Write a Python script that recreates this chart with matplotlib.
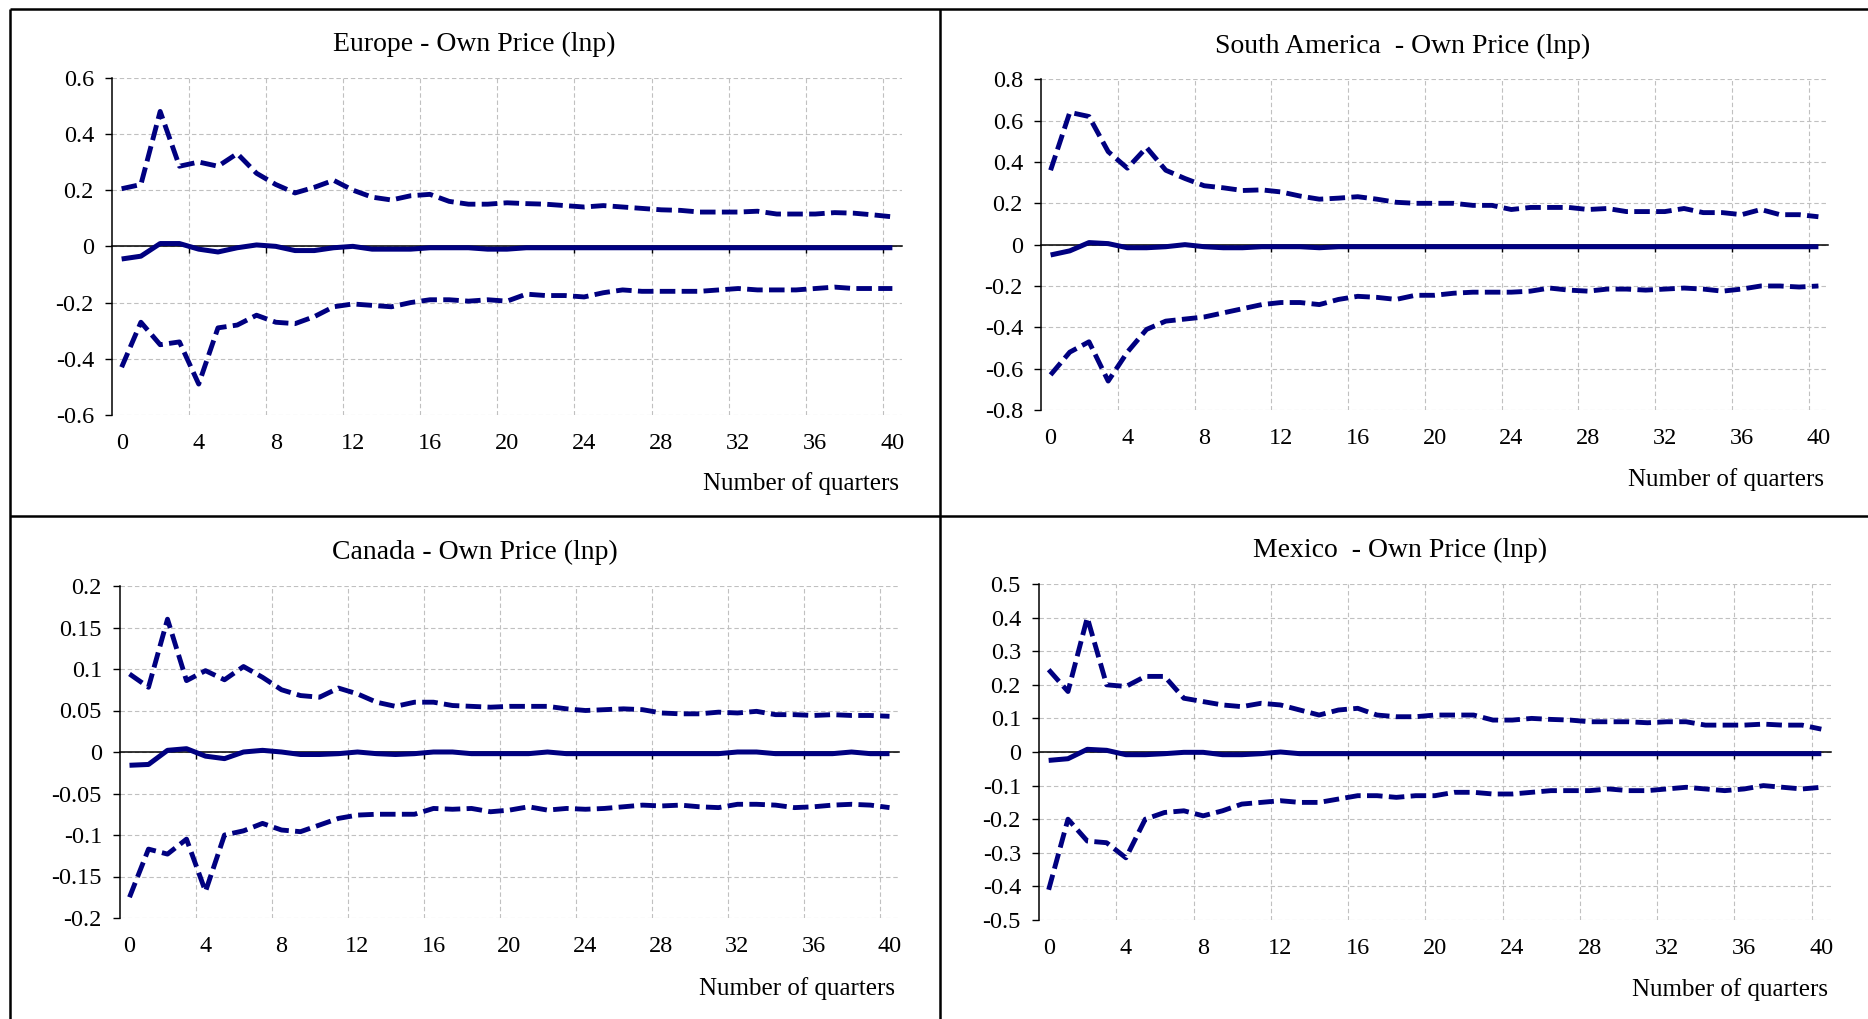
import matplotlib
matplotlib.use("Agg")
import matplotlib.pyplot as plt
from matplotlib.lines import Line2D
from matplotlib.ticker import FuncFormatter

plt.rcParams["font.family"] = ["Liberation Serif", "DejaVu Serif"]
plt.rcParams["axes.unicode_minus"] = False

# Horizon in quarters
quarters = list(range(41))
x_tick_labels = list(range(0, 41, 4))

# Europe
europe_upper = [0.205, 0.22, 0.48, 0.285, 0.30, 0.285, 0.33, 0.26, 0.22, 0.19,
                0.21, 0.235, 0.20, 0.175, 0.165, 0.18, 0.185, 0.16, 0.15, 0.15,
                0.155, 0.152, 0.15, 0.145, 0.14, 0.145, 0.14, 0.135, 0.13, 0.128,
                0.122, 0.122, 0.122, 0.125, 0.115, 0.115, 0.115, 0.12, 0.118, 0.112,
                0.105]
europe_irf = [-0.045, -0.035, 0.01, 0.01, -0.01, -0.02, -0.005, 0.005, 0.0, -0.015,
              -0.015, -0.005, 0.0, -0.01, -0.01, -0.01, -0.005, -0.005, -0.005, -0.01,
              -0.01, -0.005, -0.005, -0.005, -0.005, -0.005, -0.005, -0.005, -0.005, -0.005,
              -0.005, -0.005, -0.005, -0.005, -0.005, -0.005, -0.005, -0.005, -0.005, -0.005,
              -0.005]
europe_lower = [-0.43, -0.27, -0.35, -0.34, -0.49, -0.29, -0.28, -0.245, -0.27, -0.275,
                -0.25, -0.215, -0.205, -0.21, -0.215, -0.20, -0.19, -0.19, -0.195, -0.19,
                -0.195, -0.17, -0.175, -0.175, -0.18, -0.165, -0.155, -0.16, -0.16, -0.16,
                -0.16, -0.155, -0.15, -0.155, -0.155, -0.155, -0.15, -0.145, -0.15, -0.15,
                -0.15]

# South America
samerica_upper = [0.36, 0.64, 0.62, 0.45, 0.37, 0.47, 0.36, 0.32, 0.285, 0.275,
                  0.262, 0.265, 0.255, 0.235, 0.22, 0.225, 0.232, 0.22, 0.205, 0.20,
                  0.20, 0.20, 0.19, 0.19, 0.17, 0.18, 0.18, 0.18, 0.17, 0.175,
                  0.16, 0.16, 0.16, 0.175, 0.155, 0.155, 0.145, 0.17, 0.145, 0.145,
                  0.135]
samerica_irf = [-0.05, -0.03, 0.01, 0.005, -0.015, -0.015, -0.01, 0.0, -0.01, -0.015,
                -0.015, -0.01, -0.01, -0.01, -0.015, -0.01, -0.01, -0.01, -0.01, -0.01,
                -0.01, -0.01, -0.01, -0.01, -0.01, -0.01, -0.01, -0.01, -0.01, -0.01,
                -0.01, -0.01, -0.01, -0.01, -0.01, -0.01, -0.01, -0.01, -0.01, -0.01,
                -0.01]
samerica_lower = [-0.63, -0.52, -0.47, -0.66, -0.52, -0.41, -0.37, -0.36, -0.35, -0.33,
                  -0.31, -0.29, -0.28, -0.28, -0.29, -0.265, -0.25, -0.255, -0.265, -0.245,
                  -0.245, -0.235, -0.23, -0.23, -0.23, -0.225, -0.21, -0.22, -0.225, -0.215,
                  -0.215, -0.22, -0.215, -0.21, -0.215, -0.225, -0.215, -0.20, -0.20, -0.205,
                  -0.20]

# Canada
canada_upper = [0.094, 0.078, 0.16, 0.086, 0.098, 0.087, 0.103, 0.09, 0.075, 0.068,
                0.066, 0.077, 0.07, 0.06, 0.055, 0.06, 0.06, 0.056, 0.055, 0.054,
                0.055, 0.055, 0.055, 0.052, 0.05, 0.051, 0.052, 0.051, 0.047, 0.046,
                0.046, 0.048, 0.047, 0.049, 0.045, 0.045, 0.044, 0.045, 0.044, 0.044,
                0.043]
canada_irf = [-0.016, -0.015, 0.002, 0.004, -0.005, -0.008, 0.0, 0.002, 0.0, -0.003,
              -0.003, -0.002, 0.0, -0.002, -0.003, -0.002, 0.0, 0.0, -0.002, -0.002,
              -0.002, -0.002, 0.0, -0.002, -0.002, -0.002, -0.002, -0.002, -0.002, -0.002,
              -0.002, -0.002, 0.0, 0.0, -0.002, -0.002, -0.002, -0.002, 0.0, -0.002,
              -0.002]
canada_lower = [-0.175, -0.117, -0.123, -0.105, -0.168, -0.10, -0.095, -0.086, -0.094, -0.096,
                -0.088, -0.08, -0.076, -0.075, -0.075, -0.075, -0.068, -0.069, -0.068, -0.072,
                -0.07, -0.066, -0.07, -0.068, -0.069, -0.068, -0.066, -0.064, -0.065, -0.064,
                -0.066, -0.067, -0.063, -0.063, -0.064, -0.067, -0.066, -0.064, -0.063, -0.064,
                -0.067]

# Mexico
mexico_upper = [0.245, 0.18, 0.40, 0.20, 0.195, 0.225, 0.225, 0.16, 0.15, 0.14,
                0.135, 0.145, 0.14, 0.125, 0.11, 0.125, 0.13, 0.11, 0.105, 0.105,
                0.11, 0.11, 0.11, 0.095, 0.095, 0.10, 0.097, 0.095, 0.09, 0.09,
                0.09, 0.087, 0.09, 0.09, 0.08, 0.08, 0.08, 0.083, 0.08, 0.08,
                0.068]
mexico_irf = [-0.025, -0.02, 0.008, 0.005, -0.008, -0.008, -0.005, -0.001, -0.001, -0.008,
              -0.008, -0.005, 0.0, -0.005, -0.005, -0.005, -0.005, -0.005, -0.005, -0.005,
              -0.005, -0.005, -0.005, -0.005, -0.005, -0.005, -0.005, -0.005, -0.005, -0.005,
              -0.005, -0.005, -0.005, -0.005, -0.005, -0.005, -0.005, -0.005, -0.005, -0.005,
              -0.005]
mexico_lower = [-0.41, -0.20, -0.265, -0.27, -0.315, -0.20, -0.18, -0.175, -0.19, -0.175,
                -0.155, -0.15, -0.145, -0.15, -0.15, -0.14, -0.13, -0.13, -0.135, -0.13,
                -0.13, -0.12, -0.12, -0.125, -0.125, -0.12, -0.115, -0.115, -0.115, -0.11,
                -0.115, -0.115, -0.11, -0.105, -0.11, -0.115, -0.11, -0.10, -0.105, -0.11,
                -0.105]

europe_yticks = [-0.6, -0.4, -0.2, 0.0, 0.2, 0.4, 0.6]
samerica_yticks = [-0.8, -0.6, -0.4, -0.2, 0.0, 0.2, 0.4, 0.6, 0.8]
canada_yticks = [-0.2, -0.15, -0.1, -0.05, 0.0, 0.05, 0.1, 0.15, 0.2]
mexico_yticks = [-0.5, -0.4, -0.3, -0.2, -0.1, 0.0, 0.1, 0.2, 0.3, 0.4, 0.5]

titles = ["Europe - Own Price (lnp)", "South America  - Own Price (lnp)",
          "Canada - Own Price (lnp)", "Mexico  - Own Price (lnp)"]
x_label = "Number of quarters"

W, H = 1868, 1019
NAVY = "#000080"
GRID = "#c0c0c0"

fig = plt.figure(figsize=(W / 100, H / 100), dpi=100)
fig.patch.set_facecolor("white")

# panel boxes in pixels: plot area (left, right, top, bottom), title centre, x-label offset
panels = [
    dict(box=(112, 902, 77.7, 415), title_xy=(474, 44.5), xl_off=(-2, -49),
         upper=europe_upper, irf=europe_irf, lower=europe_lower, yticks=europe_yticks,
         title=titles[0]),
    dict(box=(1041, 1828, 79.3, 410), title_xy=(1403, 46.5), xl_off=(-3, -49.7),
         upper=samerica_upper, irf=samerica_irf, lower=samerica_lower, yticks=samerica_yticks,
         title=titles[1]),
    dict(box=(120, 899, 586, 918), title_xy=(475, 552), xl_off=(-3, -51),
         upper=canada_upper, irf=canada_irf, lower=canada_lower, yticks=canada_yticks,
         title=titles[2]),
    dict(box=(1039, 1831, 584, 920), title_xy=(1400, 550), xl_off=(-2, -50.4),
         upper=mexico_upper, irf=mexico_irf, lower=mexico_lower, yticks=mexico_yticks,
         title=titles[3]),
]

fmt = FuncFormatter(lambda v, p: "{:g}".format(round(v, 4) + 0.0))
boundaries = [b - 0.5 for b in range(4, 41, 4)]

for p in panels:
    l, r, t, b = p["box"]
    ax = fig.add_axes([l / W, 1 - b / H, (r - l) / W, (b - t) / H])
    ax.set_facecolor("none")
    ax.set_xlim(-0.5, 40.5)
    ax.set_ylim(p["yticks"][0], p["yticks"][-1])
    ax.set_yticks(p["yticks"])
    ax.yaxis.set_major_formatter(fmt)
    ax.set_xticks(boundaries)

    for s in ("top", "right"):
        ax.spines[s].set_visible(False)
    ax.spines["left"].set_color("black")
    ax.spines["left"].set_linewidth(1.1)
    ax.spines["bottom"].set_position(("data", 0))
    ax.spines["bottom"].set_color("black")
    ax.spines["bottom"].set_linewidth(1.1)
    ax.spines["bottom"].set_zorder(2.6)

    ax.tick_params(axis="x", direction="out", length=5, width=1.0, color="black",
                   labelbottom=False)
    ax.tick_params(axis="y", direction="out", length=5, width=1.0, color="black",
                   pad=8, labelsize=17.5)

    ax.set_axisbelow(True)
    ax.grid(True, color=GRID, linestyle=(0, (4, 2.5)), linewidth=0.8)

    ax.plot(quarters, p["upper"], color=NAVY, lw=3.5, ls=(0, (3.2, 1.3)),
            dash_capstyle="butt", dash_joinstyle="round", zorder=3)
    ax.plot(quarters, p["lower"], color=NAVY, lw=3.5, ls=(0, (3.2, 1.3)),
            dash_capstyle="butt", dash_joinstyle="round", zorder=3)
    ax.plot(quarters, p["irf"], color=NAVY, lw=3.6, solid_capstyle="butt",
            solid_joinstyle="round", zorder=3)

    sec = ax.secondary_xaxis("bottom")
    sec.set_xticks(x_tick_labels)
    sec.tick_params(length=0, pad=13, labelsize=17.5)
    sec.spines["bottom"].set_visible(False)

    ax.annotate(x_label, xy=(1, 0), xycoords="axes fraction", xytext=p["xl_off"],
                textcoords="offset points", ha="right", va="center", fontsize=18)

    tx, ty = p["title_xy"]
    fig.text(tx / W, 1 - ty / H, p["title"], ha="center", va="center", fontsize=20)

# cell borders
frame_kw = dict(color="black", linewidth=1.8, solid_capstyle="butt")
for xs, ys in [((10, W), (9, 9)), ((10, 10), (9, H)), ((940, 940), (9, H)),
               ((10, W), (516, 516))]:
    fig.add_artist(Line2D([x / W for x in xs], [1 - y / H for y in ys],
                          transform=fig.transFigure, **frame_kw))

fig.savefig("out.png", dpi=100, facecolor="white")
